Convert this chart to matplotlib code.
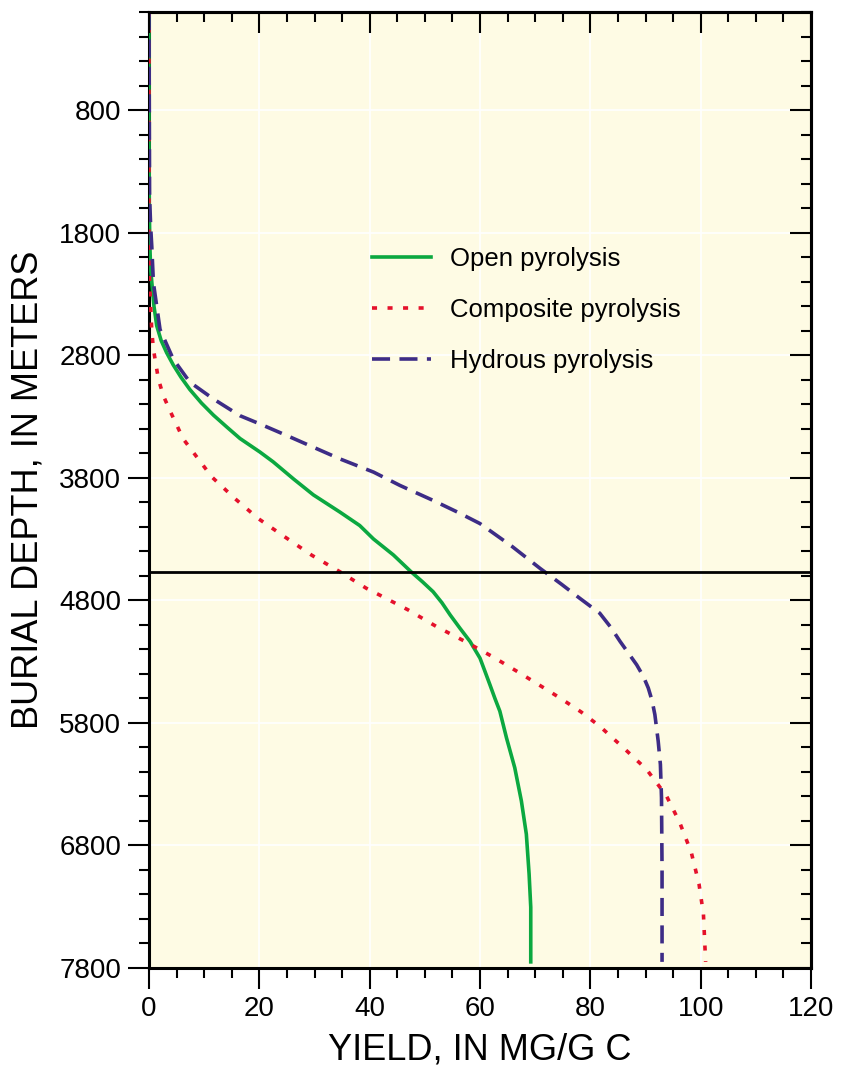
import matplotlib
matplotlib.use("Agg")
import matplotlib.pyplot as plt
from matplotlib.ticker import MultipleLocator, FixedLocator

plt.rcParams['font.family'] = ['Liberation Sans', 'DejaVu Sans']

# Open pyrolysis (yield in mg/g C vs burial depth in m)
open_depth = [0, 1000, 1600, 1900, 2100, 2200, 2400, 2560, 2680, 2780, 2880, 2980,
              3080, 3190, 3290, 3390, 3480, 3590, 3670, 3810, 3940, 4080, 4190,
              4300, 4430, 4567, 4650, 4730, 4820, 4920, 5030, 5136, 5272, 5380,
              5489, 5600, 5705, 5922, 6166, 6437, 6708, 7033, 7304, 7684, 7750]
open_yield = [0, 0, 0.05, 0.15, 0.3, 0.5, 0.9, 1.4, 2.2, 3.2, 4.4, 5.8,
              7.4, 9.5, 11.7, 14.2, 16.5, 20.1, 22.5, 26.2, 29.8, 34.6, 38.2,
              40.7, 44.3, 47.5, 49.6, 51.5, 53.1, 54.6, 56.4, 58.2, 60.0, 60.9,
              61.8, 62.7, 63.6, 64.8, 66.3, 67.5, 68.4, 68.9, 69.2, 69.2, 69.2]

# Composite pyrolysis
comp_depth = [0, 1800, 2200, 2400, 2600, 2751, 2995, 3131, 3253, 3483, 3591, 3794,
              3971, 4133, 4282, 4432, 4567, 4702, 4757, 4879, 5014, 5136, 5263,
              5393, 5529, 5597, 5710, 5827, 6003, 6180, 6396, 6613, 6857, 7115,
              7359, 7750]
comp_yield = [0, 0, 0.1, 0.3, 0.5, 0.8, 1.7, 2.6, 3.8, 6.2, 8.0, 11.4,
              15.6, 19.8, 24.6, 29.5, 34.6, 39.4, 41.8, 47.0, 52.1, 57.3, 62.4,
              67.2, 72.1, 74.5, 78.3, 81.7, 86.0, 90.2, 93.8, 96.2, 98.3, 99.7,
              100.5, 100.9]

# Hydrous pyrolysis
hyd_depth = [0, 1500, 1750, 1910, 2210, 2590, 2833, 3020, 3158, 3294, 3361, 3456,
             3551, 3646, 3754, 3863, 3985, 4080, 4174, 4360, 4540, 4670, 4784,
             4905, 5020, 5136, 5326, 5420, 5515, 5620, 5733, 5949, 6139, 6410,
             7000, 7750]
hyd_yield = [0, 0.1, 0.3, 0.5, 0.8, 2.0, 4.4, 7.4, 11.7, 16.5, 20.1, 25.0,
             29.8, 34.6, 40.7, 45.5, 51.5, 55.9, 60.0, 65.8, 70.9, 74.8, 78.1,
             81.7, 83.7, 85.4, 88.4, 89.6, 90.5, 91.2, 91.7, 92.3, 92.7, 92.9,
             93.0, 93.0]

ref_depth = 4565
y_major = [800, 1800, 2800, 3800, 4800, 5800, 6800, 7800]

green = '#0BA840'
red = '#E5112B'
blue = '#3D2C86'

fig = plt.figure(figsize=(8.42, 10.68), dpi=100)
ax = fig.add_axes([149/842, 1-968/1068, 662/842, 956/1068])
ax.set_facecolor('#FEFBE4')

ax.plot(open_yield, open_depth, color=green, lw=2.6, label='Open pyrolysis', zorder=4)
ax.plot(comp_yield, comp_depth, color=red, lw=2.6, ls=(0, (1.4, 2.9)),
        label='Composite pyrolysis', zorder=4)
ax.plot(hyd_yield, hyd_depth, color=blue, lw=2.6, ls=(0, (5, 2.6)),
        label='Hydrous pyrolysis', zorder=4)
ax.axhline(ref_depth, color='black', lw=2, zorder=5)

ax.set_xlim(0, 120)
ax.set_ylim(7800, 0)

ax.xaxis.set_major_locator(MultipleLocator(20))
ax.xaxis.set_minor_locator(MultipleLocator(5))
ax.yaxis.set_major_locator(FixedLocator(y_major))
ax.yaxis.set_minor_locator(MultipleLocator(200))
ax.grid(True, which='major', color='white', lw=1.2, zorder=1)
ax.set_axisbelow(True)

ax.tick_params(which='both', direction='out', labelsize=20, width=1.5, pad=5)
ax.tick_params(which='major', length=15)
ax.tick_params(which='minor', length=7)

for s in ax.spines.values():
    s.set_linewidth(2.2)

# inward ticks on top and right
top = ax.secondary_xaxis('top')
top.set_zorder(10)
top.xaxis.set_major_locator(MultipleLocator(20))
top.xaxis.set_minor_locator(MultipleLocator(5))
top.tick_params(which='both', direction='in', labeltop=False, width=1.5)
top.tick_params(which='major', length=15)
top.tick_params(which='minor', length=7)
top.spines['top'].set_linewidth(2.2)

right = ax.secondary_yaxis('right')
right.set_zorder(10)
right.yaxis.set_major_locator(FixedLocator(y_major))
right.yaxis.set_minor_locator(MultipleLocator(200))
right.tick_params(which='both', direction='in', labelright=False, width=1.5)
right.tick_params(which='major', length=15)
right.tick_params(which='minor', length=7)
right.spines['right'].set_linewidth(2.2)

ax.set_xlabel('YIELD, IN MG/G C', fontsize=26, labelpad=8)
ax.set_ylabel('BURIAL DEPTH, IN METERS', fontsize=26, labelpad=10)

ax.legend(loc='upper left', bbox_to_anchor=(0.337, 0.754), frameon=False,
          fontsize=18.5, handlelength=2.3, handletextpad=0.75, labelspacing=1.05,
          borderpad=0, borderaxespad=0)

plt.savefig('out.png', dpi=100)
